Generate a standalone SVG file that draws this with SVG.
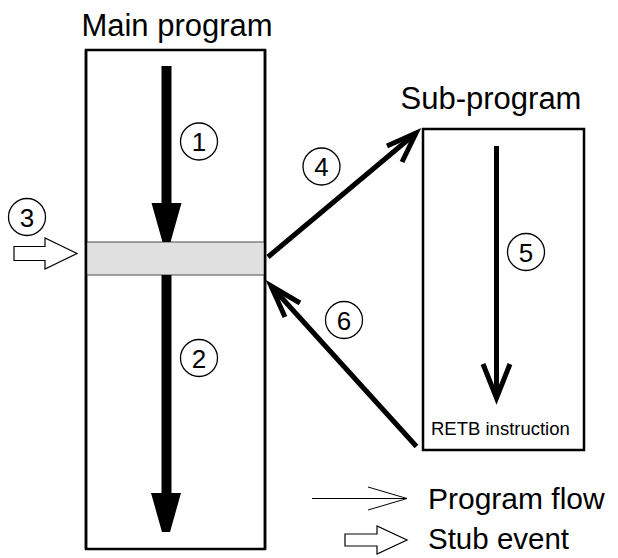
<svg xmlns="http://www.w3.org/2000/svg" width="618" height="558" viewBox="0 0 618 558">
<style>
  .lbl{font-family:"Liberation Sans",Arial,sans-serif;fill:#000}
  .big{font-size:31px}
  .num{font-size:26px;text-anchor:middle}
  .box{fill:#fff;stroke:#000;stroke-width:2.5}
  .band{fill:#e0e0e0;stroke:#666;stroke-width:1.2}
  .ring{fill:none;stroke:#000;stroke-width:1.3}
  .flow{fill:none;stroke:#000;stroke-width:5;stroke-linejoin:miter;stroke-miterlimit:10}
  .thin{fill:none;stroke:#000;stroke-width:1}
  .stub{fill:#fff;stroke:#000;stroke-width:1.2;stroke-linejoin:miter}
</style>
<rect width="618" height="558" fill="#fff"/>

<g id="main">
  <rect class="box" x="86" y="50" width="179" height="499"/>
  <rect class="band" x="86" y="242" width="179" height="33"/>
  <line x1="86" y1="50" x2="86" y2="549" stroke="#000" stroke-width="2.5"/>
  <line x1="265" y1="50" x2="265" y2="549" stroke="#000" stroke-width="2.5"/>
  <text class="lbl big" x="177" y="36" text-anchor="middle">Main program</text>
</g>

<g id="sub">
  <rect class="box" x="423" y="129" width="161" height="321" stroke-width="2"/>
  <text class="lbl big" x="491" y="109" text-anchor="middle">Sub-program</text>
  <text class="lbl" x="431" y="435" font-size="18.5">RETB instruction</text>
</g>

<g id="connectors">
  <!-- 1 -->
  <rect x="161.5" y="66" width="10" height="138"/>
  <polygon points="151.5,203 181.5,203 170.5,242 162.5,242"/>
  <!-- 2 -->
  <rect x="161.5" y="275" width="10" height="219"/>
  <polygon points="151,493 181,493 170,532 162,532"/>
  <!-- 3 stub event -->
  <polygon class="stub" points="14,246.5 45,246.5 45,238 77,253.5 45,269 45,260.5 14,260.5"/>
  <!-- 4 -->
  <line class="flow" x1="268" y1="257" x2="416" y2="133"/>
  <polyline class="flow" points="387,146 416,133 402,162"/>
  <!-- 5 -->
  <line class="flow" x1="496.5" y1="146" x2="496.5" y2="398"/>
  <polyline class="flow" points="483,364 496.5,398 510,364"/>
  <!-- 6 -->
  <line class="flow" x1="416.5" y1="446.5" x2="271" y2="286"/>
  <polyline class="flow" points="300,303 271,286 285,317"/>
</g>

<g id="labels">
  <circle class="ring" cx="199" cy="141.5" r="18.5"/>
  <text class="lbl num" x="199" y="151">1</text>
  <circle class="ring" cx="199" cy="358" r="18.5"/>
  <text class="lbl num" x="199" y="367.5">2</text>
  <circle class="ring" cx="27" cy="217" r="18.5"/>
  <text class="lbl num" x="27" y="226.5">3</text>
  <circle class="ring" cx="321.5" cy="166.5" r="18.5"/>
  <text class="lbl num" x="321.5" y="176">4</text>
  <circle class="ring" cx="526" cy="252" r="18.5"/>
  <text class="lbl num" x="526" y="261.5">5</text>
  <circle class="ring" cx="344" cy="320" r="18.5"/>
  <text class="lbl num" x="344" y="329.5">6</text>
</g>

<g id="legend">
  <line class="thin" x1="312" y1="498.5" x2="406" y2="498.5"/>
  <polyline class="thin" points="368,487 407,498.5 368,510"/>
  <text class="lbl" x="428" y="508.5" font-size="30">Program flow</text>
  <polygon class="stub" points="345,534 377,534 377,526 407,540 377,554 377,546 345,546"/>
  <text class="lbl" x="428" y="548.5" font-size="29.5">Stub event</text>
</g>
</svg>
